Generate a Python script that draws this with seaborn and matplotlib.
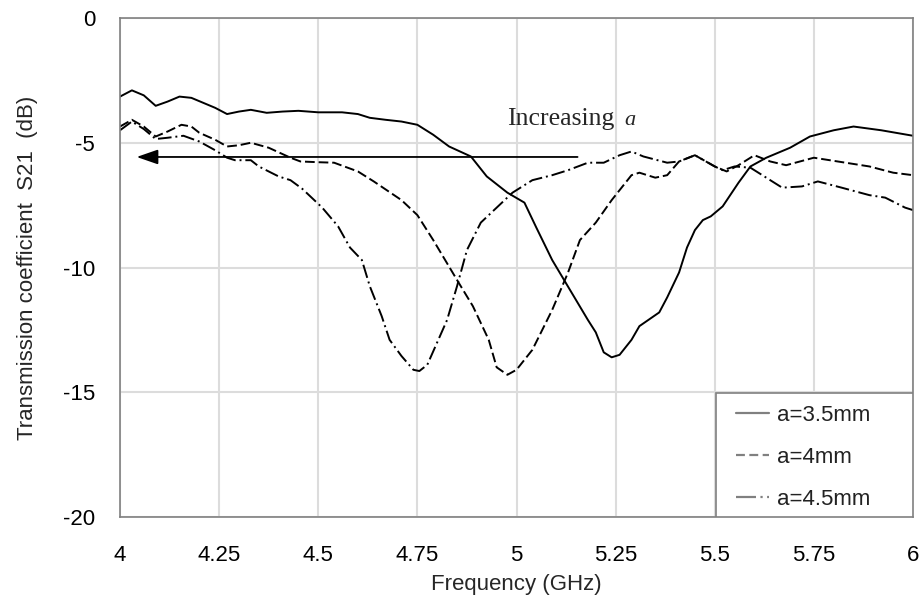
import pandas as pd
import matplotlib.pyplot as plt
import seaborn as sns
from matplotlib.lines import Line2D
from matplotlib.patches import Rectangle

# S21 curves (frequency in GHz, S21 in dB)
freq_35 = [4.00, 4.03, 4.06, 4.09, 4.12, 4.15, 4.18, 4.21, 4.24, 4.27, 4.30, 4.33, 4.37, 4.41,
           4.45, 4.50, 4.56, 4.60, 4.63, 4.67, 4.71, 4.75, 4.79, 4.83, 4.885, 4.925, 4.977,
           5.02, 5.05, 5.09, 5.12, 5.15, 5.18, 5.20, 5.22, 5.24, 5.26, 5.29, 5.31, 5.36, 5.38,
           5.41, 5.43, 5.45, 5.47, 5.49, 5.52, 5.56, 5.59, 5.63, 5.69, 5.74, 5.80, 5.85, 5.92, 6.00]
s21_35 = [-3.15, -2.9, -3.1, -3.52, -3.35, -3.15, -3.2, -3.4, -3.6, -3.85, -3.75, -3.68, -3.8, -3.75,
          -3.72, -3.78, -3.78, -3.85, -4.0, -4.08, -4.15, -4.28, -4.68, -5.15, -5.55, -6.35, -7.0,
          -7.4, -8.4, -9.7, -10.5, -11.3, -12.1, -12.6, -13.4, -13.6, -13.5, -12.9, -12.35, -11.8, -11.2,
          -10.2, -9.2, -8.5, -8.1, -7.95, -7.55, -6.6, -5.95, -5.6, -5.2, -4.75, -4.5, -4.35, -4.5, -4.72]

freq_40 = [4.00, 4.03, 4.06, 4.09, 4.12, 4.155, 4.18, 4.20, 4.24, 4.27, 4.30, 4.33, 4.375, 4.43,
           4.455, 4.50, 4.54, 4.60, 4.64, 4.71, 4.75, 4.79, 4.82, 4.85, 4.89, 4.93, 4.95, 4.977,
           5.00, 5.04, 5.09, 5.13, 5.16, 5.20, 5.24, 5.29, 5.31, 5.35, 5.38, 5.41, 5.45, 5.50,
           5.53, 5.56, 5.60, 5.64, 5.68, 5.75, 5.83, 5.89, 5.95, 6.00]
s21_40 = [-4.35, -4.08, -4.35, -4.75, -4.55, -4.28, -4.35, -4.6, -4.88, -5.15, -5.1, -5.0, -5.2, -5.6,
          -5.75, -5.78, -5.8, -6.15, -6.55, -7.3, -7.9, -8.9, -9.7, -10.5, -11.55, -12.9, -14.0, -14.3,
          -14.1, -13.3, -11.7, -10.2, -8.9, -8.2, -7.3, -6.3, -6.2, -6.4, -6.3, -5.75, -5.5, -5.95,
          -6.15, -5.9, -5.5, -5.75, -5.9, -5.6, -5.8, -5.95, -6.2, -6.3]

freq_45 = [4.00, 4.03, 4.06, 4.09, 4.12, 4.16, 4.20, 4.24, 4.27, 4.29, 4.33, 4.35, 4.40, 4.43,
           4.46, 4.51, 4.55, 4.58, 4.61, 4.63, 4.66, 4.68, 4.71, 4.74, 4.755, 4.775, 4.80, 4.825,
           4.85, 4.875, 4.91, 4.96, 4.99, 5.04, 5.09, 5.13, 5.18, 5.22, 5.26, 5.29, 5.32, 5.38,
           5.41, 5.45, 5.50, 5.52, 5.55, 5.59, 5.63, 5.67, 5.72, 5.76, 5.82, 5.89, 5.93, 5.98, 6.00]
s21_45 = [-4.5, -4.15, -4.45, -4.85, -4.8, -4.72, -4.95, -5.3, -5.6, -5.7, -5.7, -5.95, -6.35, -6.5,
          -6.85, -7.6, -8.35, -9.2, -9.7, -10.75, -11.95, -12.9, -13.55, -14.1, -14.15, -13.9, -13.0, -12.1,
          -10.75, -9.3, -8.2, -7.45, -7.0, -6.5, -6.3, -6.1, -5.8, -5.8, -5.5, -5.35, -5.55, -5.8,
          -5.75, -5.5, -5.95, -6.1, -5.95, -6.0, -6.4, -6.8, -6.75, -6.55, -6.8, -7.1, -7.2, -7.6, -7.7]

labels = ['a=3.5mm', 'a=4mm', 'a=4.5mm']
x_ticks = [4, 4.25, 4.5, 4.75, 5, 5.25, 5.5, 5.75, 6]
x_tick_labels = ['4', '4.25', '4.5', '4.75', '5', '5.25', '5.5', '5.75', '6']
y_ticks = [-20, -15, -10, -5, 0]

df = pd.concat([
    pd.DataFrame({'freq': freq_35, 's21': s21_35, 'a': labels[0]}),
    pd.DataFrame({'freq': freq_40, 's21': s21_40, 'a': labels[1]}),
    pd.DataFrame({'freq': freq_45, 's21': s21_45, 'a': labels[2]}),
])

sns.set_style('white')
plt.rcParams['font.family'] = ['Liberation Sans', 'DejaVu Sans']
plt.rcParams['axes.unicode_minus'] = False

fig = plt.figure(figsize=(9.22, 6.03), dpi=100)
ax = fig.add_axes([120 / 922, 86 / 603, 793 / 922, 499 / 603])

dash_styles = {labels[0]: '', labels[1]: (5, 2), labels[2]: (7, 2, 1, 2)}
sns.lineplot(data=df, x='freq', y='s21', style='a', dashes=dash_styles, color='black',
             linewidth=1.4, estimator=None, legend=False, ax=ax)

ax.set_xlim(4, 6)
ax.set_ylim(-20, 0)
ax.set_xticks(x_ticks)
ax.set_xticklabels(x_tick_labels)
ax.set_yticks(y_ticks)
ax.grid(True, color='#dcdcdc', linewidth=1.5)
ax.set_axisbelow(True)
for sp in ax.spines.values():
    sp.set_color('#808080')
    sp.set_linewidth(1.2)
ax.tick_params(axis='both', length=0, labelsize=16, colors='black')
ax.tick_params(axis='x', pad=20)
ax.tick_params(axis='y', pad=18)
ax.set_xlabel('Frequency (GHz)', fontsize=16, labelpad=6)
ax.set_ylabel('Transmission coefficient  S21  (dB)', fontsize=16, labelpad=18)

# arrow and annotation
ax.annotate('', xy=(4.042, -5.57), xytext=(5.154, -5.57),
            arrowprops=dict(arrowstyle='-|>,head_length=1.3,head_width=0.45', mutation_scale=10,
                            color='black', lw=1.3, shrinkA=0, shrinkB=0))
ax.text(4.975, -4.28, 'Increasing', family='Liberation Serif', fontsize=18.5, va='baseline')
ax.text(5.272, -4.28, 'a', family='Liberation Serif', style='italic', fontsize=16, va='baseline')

# legend box in the lower right corner
ax.add_patch(Rectangle((0.752, 0), 0.2485, 0.2485, transform=ax.transAxes,
                       facecolor='white', edgecolor='#808080', lw=1.2, zorder=4))
handles = [
    Line2D([], [], color='#808080', lw=1.6),
    Line2D([], [], color='#808080', lw=1.6, dashes=(4, 2)),
    Line2D([], [], color='#808080', lw=1.6, dashes=(9, 2, 1, 2)),
]
leg = ax.legend(handles, labels, loc='upper left', bbox_to_anchor=(0.7768, 0.2244),
                borderaxespad=0, borderpad=0, fontsize=16, frameon=False,
                handlelength=1.5, handletextpad=0.36, labelspacing=0.95)
leg.set_zorder(5)
for t in leg.get_texts():
    t.set_color('#222222')

fig.savefig('out.png', dpi=100)
